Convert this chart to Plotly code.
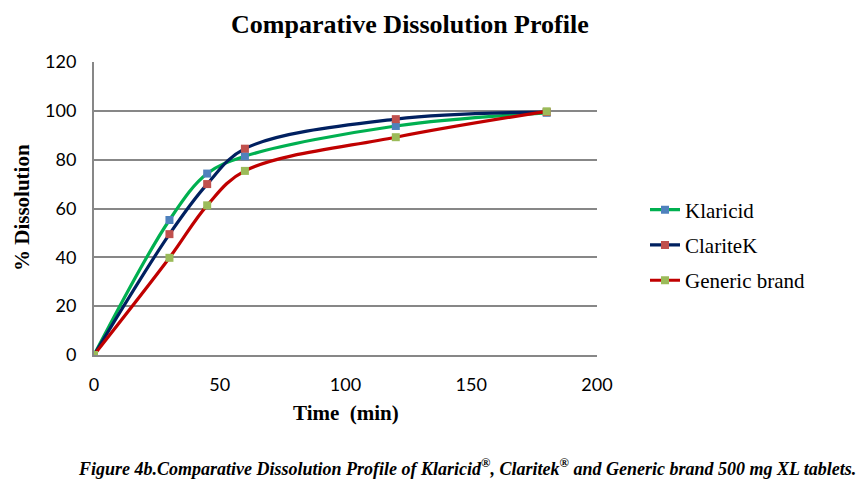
import plotly.graph_objects as go

time_min = [0, 30, 45, 60, 120, 180]
klaricid = [0, 55.3, 74.3, 81.4, 93.8, 99.2]
claritek = [0, 49.5, 70.0, 84.5, 96.6, 99.5]
generic = [0, 39.8, 61.3, 75.4, 89.2, 99.8]

series = [
    ("Klaricid", klaricid, "#00B050", "#4F81BD"),
    ("ClariteK", claritek, "#002060", "#C0504D"),
    ("Generic brand", generic, "#C00000", "#9BBB59"),
]

fig = go.Figure()
for i, (name, vals, lc, mc) in enumerate(series):
    fig.add_trace(go.Scatter(
        x=time_min, y=vals, name=name, mode="lines+markers", legendgroup=f"g{i}",
        line=dict(color=lc, width=3.2, shape="spline", smoothing=1.0),
        marker=dict(symbol="square", size=8, color=mc),
    ))

# page has an 8px body margin; work in reference pixel coords minus 8
O = 8
W, H = 864 - O, 502 - O
L, T = 94 - O, 62 - O
R = W - (597 - O)
B = H - (355 - O)
pw = W - L - R
ph = H - T - B


def px(xr):
    return (xr - O - L) / pw


def py(yr):
    return (H - B - (yr - O)) / ph


fig.update_layout(
    width=W, height=H,
    margin=dict(l=L, r=R, t=T, b=B, autoexpand=False),
    paper_bgcolor="white", plot_bgcolor="white",
    showlegend=True,
    legend=dict(x=px(645), y=py(245), xanchor="left", yanchor="middle",
                font=dict(family="Liberation Serif", size=21, color="black"),
                tracegroupgap=5, bgcolor="rgba(0,0,0,0)"),
    font=dict(family="Liberation Serif", color="black"),
    annotations=[
        dict(text="<b>Comparative Dissolution Profile</b>", xref="paper", yref="paper",
             x=px(410), y=py(8), xanchor="center", yanchor="top",
             showarrow=False, font=dict(family="Liberation Serif", size=26, color="black")),
        dict(text="<b><i>Figure 4b.Comparative Dissolution Profile of Klaricid<sup>®</sup>, Claritek<sup>®</sup> and Generic brand 500 mg XL tablets.</i></b>",
             xref="paper", yref="paper",
             x=px(858), y=py(467), xanchor="right", yanchor="middle",
             showarrow=False, font=dict(family="Liberation Serif", size=18, color="black")),
        dict(text="<b>% Dissolution</b>", xref="paper", yref="paper",
             x=px(22), y=py(208), xanchor="center", yanchor="middle",
             textangle=-90, showarrow=False,
             font=dict(family="Liberation Serif", size=21, color="black")),
        dict(text="<b>Time  (min)</b>", xref="paper", yref="paper",
             x=px(346), y=py(413), xanchor="center", yanchor="middle",
             showarrow=False, font=dict(family="Liberation Serif", size=21, color="black")),
    ],
)

fig.update_xaxes(
    range=[0, 200], tickvals=[0, 50, 100, 150, 200], automargin=False,
    showgrid=False, zeroline=False, showline=True, linecolor="#878787", linewidth=2,
    ticks="", ticklabelstandoff=12, tickfont=dict(family="Lato", size=18, color="black"),
)
fig.update_yaxes(
    range=[0, 120], tickvals=[0, 20, 40, 60, 80, 100, 120], automargin=False,
    showgrid=True, gridcolor="#878787", gridwidth=2, zeroline=False,
    showline=True, linecolor="#878787", linewidth=2,
    ticks="", ticklabelstandoff=12, tickfont=dict(family="Lato", size=18, color="black"),
)

fig.write_html("out.html")
